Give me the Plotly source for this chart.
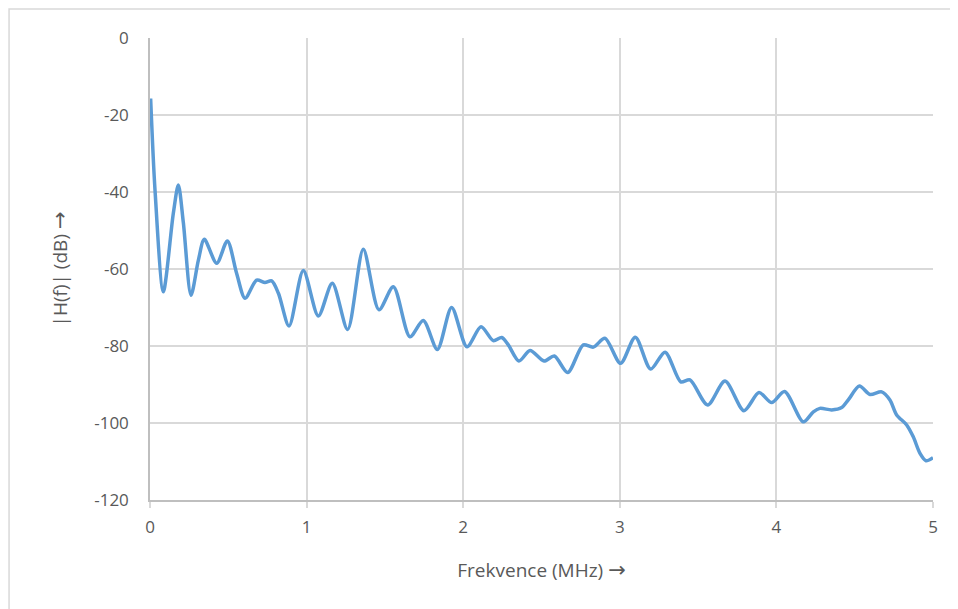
import plotly.graph_objects as go

freq_mhz = [0.004, 0.032, 0.085, 0.149, 0.181, 0.213, 0.262, 0.309, 0.347, 0.426, 0.494, 0.553,
            0.607, 0.681, 0.734, 0.777, 0.82, 0.888, 0.979, 1.075, 1.164, 1.262, 1.362, 1.462,
            1.554, 1.66, 1.745, 1.835, 1.926, 2.024, 2.114, 2.192, 2.246, 2.288, 2.356, 2.427,
            2.516, 2.582, 2.667, 2.767, 2.831, 2.905, 3.005, 3.099, 3.197, 3.289, 3.389, 3.448,
            3.561, 3.672, 3.793, 3.889, 3.97, 4.052, 4.172, 4.236, 4.278, 4.353, 4.417, 4.459,
            4.53, 4.598, 4.672, 4.725, 4.768, 4.832, 4.874, 4.917, 4.955, 5.0]
gain_db = [-15.7, -39.5, -65.9, -45.5, -38.2, -48.0, -66.8, -57.7, -52.3, -58.5, -52.7, -61.1,
           -67.6, -62.9, -63.5, -63.1, -66.3, -74.8, -60.4, -72.2, -63.7, -75.7, -54.9, -70.6,
           -64.6, -77.6, -73.4, -80.9, -70.0, -80.2, -75.0, -78.6, -77.8, -79.7, -83.9, -81.2,
           -83.9, -82.6, -86.9, -79.7, -80.3, -78.0, -84.5, -77.7, -86.0, -81.6, -89.3, -88.8,
           -95.3, -89.1, -96.8, -92.1, -94.7, -91.8, -99.7, -97.1, -96.2, -96.6, -96.0, -94.0,
           -90.4, -92.6, -91.9, -94.0, -97.9, -100.5, -103.6, -107.9, -109.8, -109.0]

x_ticks = [0, 1, 2, 3, 4, 5]
y_ticks = [0, -20, -40, -60, -80, -100, -120]

font_family = "Open Sans, Liberation Sans, sans-serif"
arrow = '<span style="font-family:DejaVu Sans;font-size:21px">→</span>'
grey_text = "#595959"
grid = "#D9D9D9"

fig = go.Figure()
fig.add_trace(go.Scatter(
    x=freq_mhz, y=gain_db, mode="lines",
    line=dict(color="#5B9BD5", width=3.5, shape="spline", smoothing=0.8),
    showlegend=False, hoverinfo="skip",
))

fig.update_layout(
    width=950, height=601,
    margin=dict(l=142, r=25, t=30, b=109),
    paper_bgcolor="white", plot_bgcolor="white",
    font=dict(family=font_family, color=grey_text, size=17),
    xaxis=dict(
        range=[0, 5], tickvals=x_ticks, ticktext=[str(v) for v in x_ticks],
        showgrid=True, gridcolor=grid, gridwidth=1.5, zeroline=False,
        showline=True, linecolor="#BFBFBF", linewidth=1.5,
        ticks="outside", ticklen=6, tickcolor="#D9D9D9", tickwidth=1.5,
        ticklabelstandoff=5,
        tickfont=dict(size=17, color=grey_text),
        title=dict(text="Frekvence (MHz) " + arrow, font=dict(size=19, color=grey_text), standoff=27),
    ),
    yaxis=dict(
        range=[-120, 0], tickvals=y_ticks, ticktext=[str(v) for v in y_ticks],
        showgrid=True, gridcolor=grid, gridwidth=1.5, zeroline=False,
        showline=True, linecolor="#BFBFBF", linewidth=1.5,
        ticks="", ticklabelstandoff=16,
        tickfont=dict(size=17, color=grey_text),
        title=dict(text="|H(f)| (dB) " + arrow, font=dict(size=19, color=grey_text), standoff=22),
    ),
    shapes=[dict(
        type="rect", xref="paper", yref="paper",
        x0=-0.18, x1=1.06, y0=-0.25, y1=1.0628,
        line=dict(color="#D9D9D9", width=1.5), fillcolor="rgba(0,0,0,0)", layer="below",
    )],
)

fig.write_html("out.html")
